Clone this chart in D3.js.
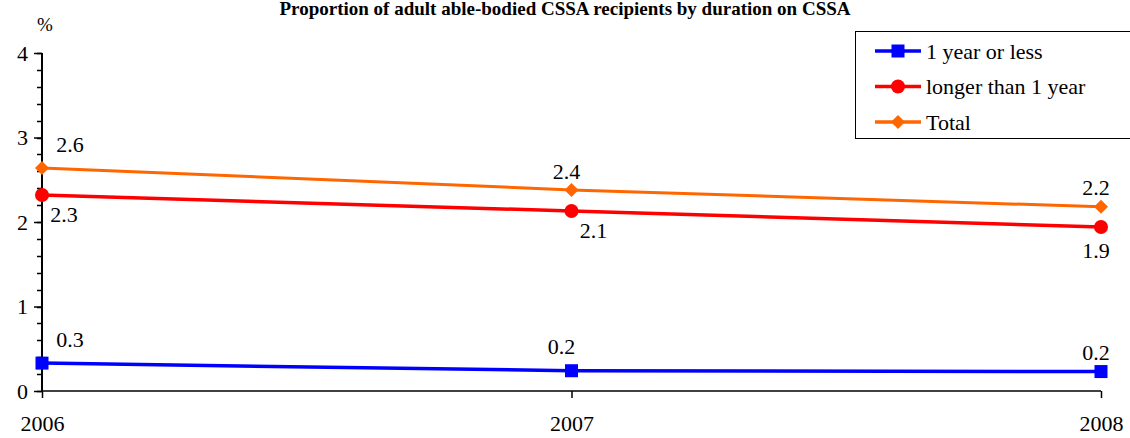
<!DOCTYPE html>
<html>
<head>
<meta charset="utf-8">
</head>
<body style="margin:0">
<div id="chart"></div>
<script src="https://d3js.org/d3.v7.min.js"></script>
<script>
var years = ["2006", "2007", "2008"];
var oneYearOrLess = [0.33, 0.24, 0.23];
var longerThanOne = [2.32, 2.13, 1.94];
var total = [2.64, 2.38, 2.18];
var yTicks = [0, 1, 2, 3, 4];

var FONT = "'Times New Roman', 'Liberation Serif', Times, serif";

var series = [
  {name: "1 year or less", values: oneYearOrLess, color: "#0000ff", marker: "square", labelPos: ["ar", "al", "a"]},
  {name: "longer than 1 year", values: longerThanOne, color: "#ff0000", marker: "circle", labelPos: ["br", "br", "b"]},
  {name: "Total", values: total, color: "#ff6600", marker: "diamond", labelPos: ["ar", "a", "a"]}
];

var width = 1130, height = 438;
var svg = d3.select("#chart").append("svg")
  .attr("width", width).attr("height", height)
  .style("font-family", FONT);

var x = d3.scalePoint().domain(years).range([42, 1101]);
var y = d3.scaleLinear().domain([0, 4]).range([391, 53]);

// title
svg.append("text")
  .attr("x", 565).attr("y", 15)
  .attr("text-anchor", "middle")
  .style("font-family", FONT)
  .attr("font-weight", "bold").attr("font-size", 19)
  .text("Proportion of adult able-bodied CSSA recipients by duration on CSSA");

svg.append("text")
  .attr("x", 45).attr("y", 31)
  .attr("text-anchor", "middle")
  .style("font-family", FONT).attr("font-size", 19)
  .text("%");

// minor ticks
var minor = d3.range(0, 4.01, 0.2);
svg.append("g").selectAll("line").data(minor).join("line")
  .attr("x1", 37).attr("x2", 42)
  .attr("y1", d => Math.round(y(d)) + 0.5).attr("y2", d => Math.round(y(d)) + 0.5)
  .attr("stroke", "#000").attr("stroke-width", 1.5);

// y axis
var yAxis = svg.append("g").attr("transform", "translate(42,0)")
  .call(d3.axisLeft(y).tickValues(yTicks).tickFormat(d3.format("d")).tickSize(8));
yAxis.attr("font-family", null).attr("font-size", null);
yAxis.selectAll("line").attr("stroke-width", 1.5);
yAxis.select(".domain").attr("stroke-width", 2).attr("d", "M0," + y(4) + "V" + y(0));
yAxis.selectAll("text").attr("x", -14).attr("dy", "0.32em")
  .style("font-family", FONT).attr("font-size", 22);

// x axis
var xAxis = svg.append("g").attr("transform", "translate(0," + y(0) + ")")
  .call(d3.axisBottom(x).tickSize(7));
xAxis.attr("font-family", null).attr("font-size", null);
xAxis.select(".domain").attr("stroke-width", 1.5).attr("d", "M42,0H1101");
xAxis.selectAll(".tick line").attr("stroke-width", 1.5);
xAxis.selectAll("text").attr("y", 24)
  .style("font-family", FONT).attr("font-size", 22);

// lines
var line = d3.line().x((d, i) => x(years[i])).y(d => y(d));

function drawMarker(g, type, color) {
  if (type === "square") {
    g.append("rect").attr("x", -6.5).attr("y", -6.5).attr("width", 13).attr("height", 13).attr("fill", color);
  } else if (type === "circle") {
    g.append("circle").attr("r", 7).attr("fill", color);
  } else {
    g.append("path").attr("d", "M0,-7L7,0L0,7L-7,0Z").attr("fill", color);
  }
}

var offsets = {
  ar: [28, -24],
  al: [-10, -24],
  a: [-5, -19],
  br: [22, 19],
  b: [-5, 23]
};

series.forEach(function(s) {
  svg.append("path").datum(s.values)
    .attr("d", line).attr("fill", "none")
    .attr("stroke", s.color).attr("stroke-width", s.marker === "diamond" ? 3 : 3.5);
  s.values.forEach(function(v, i) {
    var g = svg.append("g").attr("transform", "translate(" + x(years[i]) + "," + y(v) + ")");
    drawMarker(g, s.marker, s.color);
    var o = offsets[s.labelPos[i]];
    g.append("text").attr("x", o[0]).attr("y", o[1]).attr("dy", "0.35em")
      .attr("text-anchor", "middle")
      .style("font-family", FONT).attr("font-size", 22)
      .text(d3.format(".1f")(v));
  });
});

// legend
var legend = svg.append("g");
legend.append("rect").attr("x", 855.5).attr("y", 31.5).attr("width", 280).attr("height", 107)
  .attr("fill", "#fff").attr("stroke", "#000").attr("stroke-width", 1);
series.forEach(function(s, i) {
  var ly = 51 + i * 35.5;
  legend.append("line").attr("x1", 875).attr("x2", 921).attr("y1", ly).attr("y2", ly)
    .attr("stroke", s.color).attr("stroke-width", 3.5);
  drawMarker(legend.append("g").attr("transform", "translate(898," + ly + ")"), s.marker, s.color);
  legend.append("text").attr("x", 926).attr("y", ly).attr("dy", "0.35em")
    .style("font-family", FONT).attr("font-size", 22).text(s.name);
});
</script>
</body>
</html>
